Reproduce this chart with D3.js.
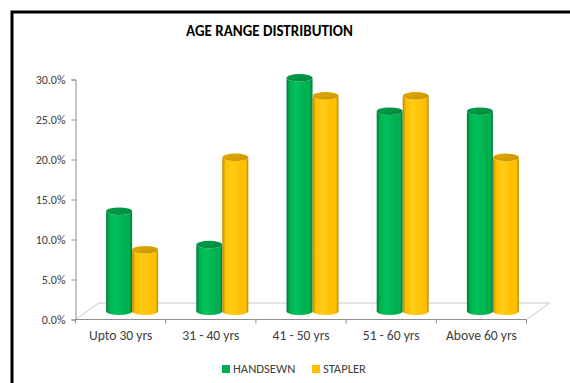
<!DOCTYPE html>
<html>
<head>
<meta charset="utf-8">
<script src="https://cdn.jsdelivr.net/npm/d3@7"></script>
<style>
  html, body { margin: 0; padding: 0; background: #fff; }
  svg { display: block; }
  text { font-family: Carlito, Lato, "Open Sans", sans-serif; }
</style>
</head>
<body>
<svg id="chart" width="570" height="383"></svg>
<script>
// Age groups and share of patients per technique (%)
const categories = ["Upto 30 yrs", "31 - 40 yrs", "41 - 50 yrs", "51 - 60 yrs", "Above 60 yrs"];
const seriesNames = ["HANDSEWN", "STAPLER"];
const handsewn = [12.5, 8.33, 29.17, 25.0, 25.0];
const stapler = [7.69, 19.23, 26.92, 26.92, 19.23];
const yTicks = [0, 5, 10, 15, 20, 25, 30];

(function () {
const W = 570, H = 383;
const svg = d3.select("#chart");

// plot frame
const plotLeft = 75.5, plotRight = 526.5, plotBottom = 319.5, plotTop = 79.5;
// 3D floor depth offset (full depth), bars stand at half depth
const depthX = 23, depthY = -16.5;
const midX = depthX / 2, midY = depthY / 2;

const x = d3.scaleBand().domain(categories).range([plotLeft, plotRight]).padding(0);
const y = d3.scaleLinear().domain([0, 30]).range([plotBottom, plotTop]);
const sub = d3.scaleBand().domain(seriesNames).range([0, 52]);
const barW = sub.bandwidth();
const ry = 3.8;

const palette = {
  HANDSEWN: { dark: "#00773a", mid: "#00b050", light: "#00c25a", cap: "#009d47", capEdge: "#008a3e" },
  STAPLER:  { dark: "#b98a00", mid: "#ffc000", light: "#ffcc1a", cap: "#e3aa00", capEdge: "#c99500" }
};

const defs = svg.append("defs");
Object.entries(palette).forEach(([k, c]) => {
  const g = defs.append("linearGradient").attr("id", "body-" + k)
    .attr("x1", "0").attr("x2", "1").attr("y1", "0").attr("y2", "0");
  [[0, c.dark], [0.12, c.mid], [0.38, c.light], [0.7, c.mid], [0.9, c.mid], [1, c.dark]]
    .forEach(([o, col]) => g.append("stop").attr("offset", o).attr("stop-color", col));
  const t = defs.append("linearGradient").attr("id", "cap-" + k)
    .attr("x1", "0").attr("x2", "1").attr("y1", "0").attr("y2", "1");
  [[0, c.cap], [1, c.capEdge]]
    .forEach(([o, col]) => t.append("stop").attr("offset", o).attr("stop-color", col));
});

// outer frame
svg.append("rect").attr("x", 12).attr("y", 12).attr("width", W + 10).attr("height", H + 10)
  .attr("fill", "#fff").attr("stroke", "#000").attr("stroke-width", 3);

// title
svg.append("text").attr("x", 269.5).attr("y", 36).attr("text-anchor", "middle")
  .attr("font-size", 15).attr("font-weight", "bold").attr("fill", "#000")
  .text("AGE RANGE DISTRIBUTION");

// floor
const floorCol = "#c8c8c8";
svg.append("path")
  .attr("d", `M${plotLeft},${plotBottom} L${plotLeft + depthX},${plotBottom + depthY} L${plotRight + depthX},${plotBottom + depthY} L${plotRight},${plotBottom}`)
  .attr("fill", "none").attr("stroke", floorCol).attr("stroke-width", 1);

// y axis
const yAxis = svg.append("g").attr("transform", `translate(${plotLeft},0)`)
  .call(d3.axisLeft(y).tickValues(yTicks).tickSize(4).tickPadding(6).tickFormat(d => d.toFixed(1) + "%"));
yAxis.select(".domain").attr("stroke", "#8c8c8c");
yAxis.selectAll(".tick line").attr("stroke", "#8c8c8c");
yAxis.selectAll("text").attr("font-size", 12).attr("fill", "#404040")
  .style("font-family", "Carlito, Lato, sans-serif");

// x axis
const xAxis = svg.append("g").attr("transform", `translate(0,${plotBottom})`)
  .call(d3.axisBottom(x).tickSize(0).tickPadding(11));
xAxis.select(".domain").attr("stroke", "#8c8c8c").attr("d", `M${plotLeft},0H${plotRight}`);
xAxis.selectAll("text").attr("font-size", 13.6).attr("fill", "#404040")
  .style("font-family", "Carlito, Lato, sans-serif");
const bounds = categories.map(c => x(c)).concat([plotRight]);
svg.append("g").selectAll("line").data(bounds).join("line")
  .attr("x1", d => d).attr("x2", d => d).attr("y1", plotBottom).attr("y2", plotBottom + 4)
  .attr("stroke", "#8c8c8c");

// cylinders
const rows = [];
categories.forEach((c, i) => {
  rows.push({ cat: c, s: "HANDSEWN", v: handsewn[i] });
  rows.push({ cat: c, s: "STAPLER", v: stapler[i] });
});

const bars = svg.append("g").selectAll("g").data(rows).join("g");
bars.each(function (d) {
  const g = d3.select(this);
  const x0 = x(d.cat) + x.bandwidth() / 2 - 26 + sub(d.s) + midX;
  const x1 = x0 + barW, rx = barW / 2;
  const yb = y(0) + midY, yt = y(d.v) + midY;
  g.append("path")
    .attr("d", `M${x0},${yt} L${x0},${yb} A${rx},${ry} 0 0 0 ${x1},${yb} L${x1},${yt} A${rx},${ry} 0 0 1 ${x0},${yt} Z`)
    .attr("fill", `url(#body-${d.s})`);
  g.append("ellipse").attr("cx", x0 + rx).attr("cy", yt).attr("rx", rx).attr("ry", ry)
    .attr("fill", `url(#cap-${d.s})`);
});

// legend
const legend = svg.append("g");
const legendItems = [{ s: "HANDSEWN", x: 222 }, { s: "STAPLER", x: 312 }];
legendItems.forEach(it => {
  legend.append("rect").attr("x", it.x).attr("y", 365).attr("width", 8).attr("height", 8)
    .attr("fill", palette[it.s].mid);
  legend.append("text").attr("x", it.x + 11).attr("y", 373).attr("font-size", 12.6)
    .attr("fill", "#404040").text(it.s);
});
})();
</script>
</body>
</html>
